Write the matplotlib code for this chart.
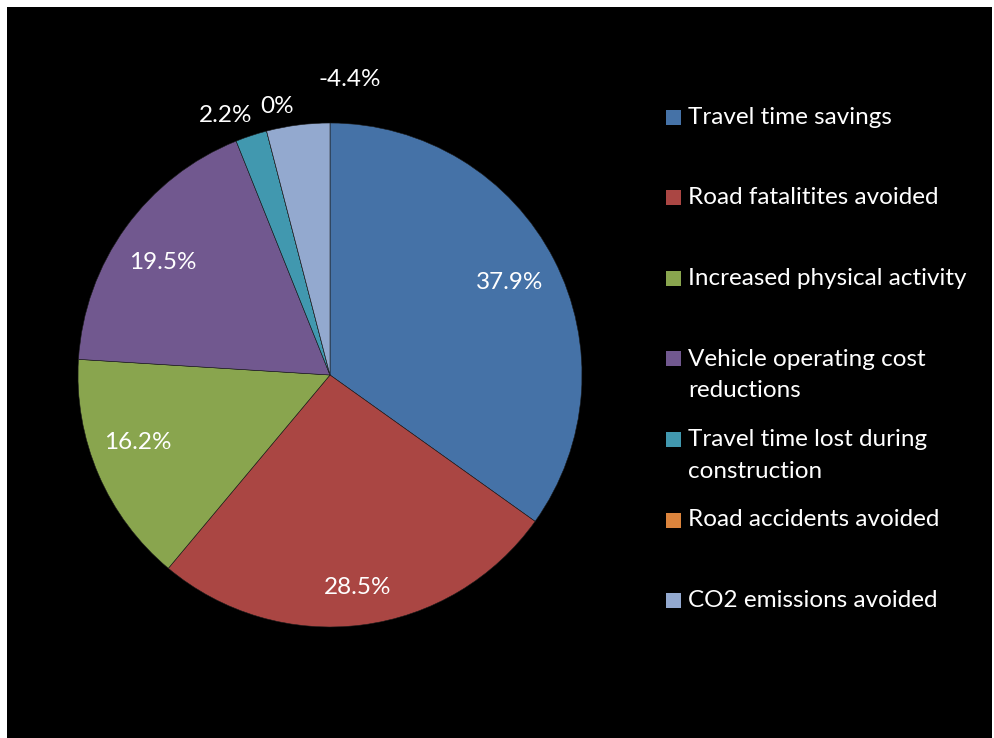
import numpy as np
import matplotlib.pyplot as plt
from matplotlib.patches import Rectangle

plt.rcParams['font.family'] = ['Lato', 'DejaVu Sans']

categories = ["Travel time savings", "Road fatalitites avoided",
              "Increased physical activity", "Vehicle operating cost\nreductions",
              "Travel time lost during\nconstruction", "Road accidents avoided",
              "CO2 emissions avoided"]
shares = [37.9, 28.5, 16.2, 19.5, 2.2, 0.0, -4.4]
colors = ["#4572A7", "#AA4643", "#89A54E", "#71588F", "#4198AF", "#DB843D", "#93A9CF"]

W, H = 994, 738
fig = plt.figure(figsize=(W / 100, H / 100), dpi=100, facecolor="white")

# black chart area with a thin white margin top/left
fig.patches.append(Rectangle((7 / W, 0), (992 - 7) / W, (H - 7) / H,
                             transform=fig.transFigure, facecolor="black",
                             edgecolor="none", zorder=-5))

cx, cy, r = 330, 375, 252
ax = fig.add_axes([(cx - r) / W, (H - cy - r) / H, 2 * r / W, 2 * r / H])
ax.set_zorder(2)
ax.set_facecolor("none")

sizes = np.abs(shares)
wedges, _ = ax.pie(sizes, colors=colors, startangle=90, counterclock=False,
                   radius=1.0, wedgeprops=dict(edgecolor="#1a1a1a", linewidth=0.4))
ax.set_xlim(-1, 1)
ax.set_ylim(-1, 1)

# label distance and angle nudge per slice (small slices labelled outside)
dist = [0.80, 0.85, 0.81, 0.80, 1.11, 1.085, 1.175]
nudge = [0, 0, -4, 2, 3.6, -3.4, -11.2]
for w, v, d, n in zip(wedges, shares, dist, nudge):
    ang = np.deg2rad((w.theta1 + w.theta2) / 2 + n)
    txt = "%g%%" % v
    ax.text(d * np.cos(ang), d * np.sin(ang), txt, color="white",
            fontsize=17.5, ha="center", va="center")

# legend drawn on the right
lx, ly0, step = 666, 117, 80.6
for i, (lab, c) in enumerate(zip(categories, colors)):
    y = ly0 + step * i
    fig.patches.append(Rectangle((lx / W, (H - y - 7.5) / H), 15 / W, 15 / H,
                                 transform=fig.transFigure, facecolor=c,
                                 edgecolor="none", zorder=1))
    nlines = lab.count("\n") + 1
    yc = y + 16 * (nlines - 1)
    fig.text(688 / W, (H - yc) / H, lab, color="white", fontsize=17.5,
             ha="left", va="center", linespacing=1.6)

fig.savefig("out.png", dpi=100, facecolor="white")
